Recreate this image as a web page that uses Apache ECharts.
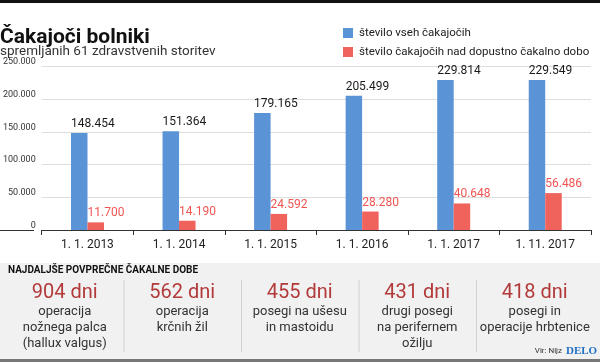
<!DOCTYPE html>
<html>
<head>
<meta charset="utf-8">
<script src="https://cdn.jsdelivr.net/npm/echarts@6/dist/echarts.min.js"></script>
<style>html,body{margin:0;padding:0;background:#fff}#c{width:600px;height:362px}</style>
</head>
<body>
<div id="c"></div>
<script>
const categories = ['1. 1. 2013', '1. 1. 2014', '1. 1. 2015', '1. 1. 2016', '1. 1. 2017', '1. 11. 2017'];
const allWaiting = [148454, 151364, 179165, 205499, 229814, 229549];
const overLimit = [11700, 14190, 24592, 28280, 40648, 56486];
const seriesNames = ['število vseh čakajočih', 'število čakajočih nad dopustno čakalno dobo'];
const statDays = ['904 dni', '562 dni', '455 dni', '431 dni', '418 dni'];
const statLabels = [
  ['operacija', 'nožnega palca', '(hallux valgus)'],
  ['operacija', 'krčnih žil'],
  ['posegi na ušesu', 'in mastoidu'],
  ['drugi posegi', 'na perifernem', 'ožilju'],
  ['posegi in', 'operacije hrbtenice']
];

const fmt = v => {
  const s = String(Math.round(v));
  return s.replace(/\B(?=(\d{3})+(?!\d))/g, '.');
};

const F = 'Roboto, "Open Sans", sans-serif';
const chart = echarts.init(document.getElementById('c'), null, {renderer: 'canvas'});

const graphics = [];
graphics.push({type: 'rect', shape: {x: 0, y: 0, width: 600, height: 3}, style: {fill: '#111'}});
graphics.push({type: 'text', style: {text: 'Čakajoči bolniki', x: 0, y: 27, textVerticalAlign: 'alphabetic', font: 'bold 21px ' + F, fill: '#111'}});
graphics.push({type: 'text', style: {text: 'spremljanih 61 zdravstvenih storitev', x: 0, y: 45, textVerticalAlign: 'alphabetic', font: '13.5px ' + F, fill: '#333'}});
graphics.push({type: 'line', shape: {x1: 0, y1: 230.5, x2: 34, y2: 230.5}, style: {stroke: '#333', lineWidth: 1}});
graphics.push({type: 'rect', shape: {x: 0, y: 263, width: 600, height: 96}, style: {fill: '#f1f1f1'}});
graphics.push({type: 'rect', shape: {x: 0, y: 359, width: 600, height: 3}, style: {fill: '#777'}});
graphics.push({type: 'text', style: {text: 'NAJDALJŠE POVPREČNE ČAKALNE DOBE', x: 8, y: 270, textVerticalAlign: 'middle', font: 'bold 10px ' + F, fill: '#111'}});
const colW = 117.5, col0 = 6;
for (let i = 0; i < statDays.length; i++) {
  const cx = col0 + colW * i + colW / 2;
  if (i > 0) graphics.push({type: 'line', shape: {x1: col0 + colW * i + 0.5, y1: 280, x2: col0 + colW * i + 0.5, y2: 352}, style: {stroke: '#d2d2d2', lineWidth: 1}});
  graphics.push({type: 'text', style: {text: statDays[i], x: cx, y: 293, textAlign: 'center', textVerticalAlign: 'middle', font: '20px ' + F, fill: '#b23a3a'}});
  statLabels[i].forEach((t, j) => {
    graphics.push({type: 'text', style: {text: t, x: cx, y: 312 + j * 15.7, textAlign: 'center', textVerticalAlign: 'middle', font: '13px ' + F, fill: '#333'}});
  });
}
graphics.push({type: 'text', style: {text: 'Vir: Nijz', x: 562, y: 351, textAlign: 'right', textVerticalAlign: 'middle', font: '8px "Liberation Sans Narrow", Roboto, sans-serif', fill: '#333'}});
graphics.push({type: 'text', style: {text: 'DELO', x: 566, y: 351, textAlign: 'left', textVerticalAlign: 'middle', font: 'bold 11px "Liberation Serif", "DejaVu Serif", serif', fill: '#1f6fc4'}});

const labelCommon = {
  show: true, position: 'top', align: 'left', distance: 3, offset: [-8.25, 0],
  fontFamily: F, fontSize: 12, formatter: p => fmt(p.value)
};

const legendCommon = {
  orient: 'vertical', left: 343, itemWidth: 10, itemHeight: 10, itemGap: 0, padding: 0,
  icon: 'rect', textStyle: {fontSize: 11.5, color: '#222', fontFamily: F, padding: [0, 0, 0, 1]}
};

chart.setOption({
  animation: false,
  backgroundColor: '#fff',
  textStyle: {fontFamily: F},
  grid: {left: 34, right: 9, top: 66.7, bottom: 132, containLabel: false},
  legend: [
    Object.assign({}, legendCommon, {top: 27, data: [seriesNames[0]]}),
    Object.assign({}, legendCommon, {top: 46, data: [seriesNames[1]]})
  ],
  xAxis: {
    type: 'category', data: categories,
    axisLine: {lineStyle: {color: '#333', width: 1}},
    axisTick: {show: true, length: 5, lineStyle: {color: '#333'}},
    axisLabel: {fontSize: 12, color: '#222', fontFamily: F, margin: 9}
  },
  yAxis: {
    type: 'value', min: 0, max: 250000, interval: 50000,
    axisLine: {show: false}, axisTick: {show: false},
    splitLine: {lineStyle: {color: '#dddddd', width: 1}},
    axisLabel: {
      fontSize: 9, color: '#333', margin: 6, verticalAlign: 'bottom',
      fontFamily: '"Liberation Sans Narrow", Roboto, sans-serif',
      formatter: v => fmt(v)
    }
  },
  series: [
    {
      name: seriesNames[0], type: 'bar', data: allWaiting, barWidth: 16.5, barGap: '0%',
      itemStyle: {color: '#5b94d6'},
      label: Object.assign({}, labelCommon, {color: '#1a1a1a'})
    },
    {
      name: seriesNames[1], type: 'bar', data: overLimit, barWidth: 16.5, barGap: '0%',
      itemStyle: {color: '#f0625c'},
      label: Object.assign({}, labelCommon, {color: '#f05552'})
    }
  ],
  graphic: graphics
});
</script>
</body>
</html>
